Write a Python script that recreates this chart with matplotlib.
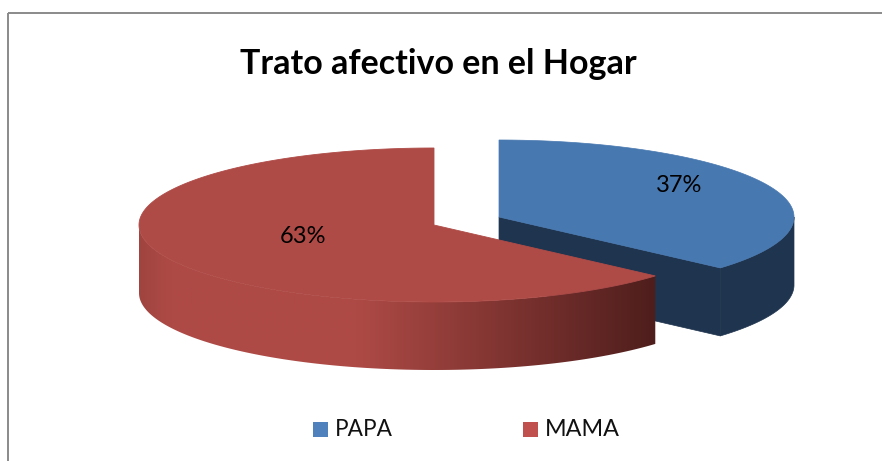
import numpy as np
import matplotlib
matplotlib.use("Agg")
import matplotlib.pyplot as plt
from matplotlib.patches import Polygon, Rectangle
from matplotlib.colors import LinearSegmentedColormap

plt.rcParams['font.family'] = ['Lato', 'DejaVu Sans']

categories = ["PAPA", "MAMA"]
values = [36.5, 63.5]   # labels are rounded
pct_labels = ["37%", "63%"]
title = "Trato afectivo en el Hogar"

W, H = 882, 461
rx, ry = 295, 77
depth = 68
c_papa = (499, 217)
c_mama = (434, 225)


def arc(center, a0, a1, dy=0):
    # angles in degrees, clockwise from 12 o'clock
    t = np.radians(np.linspace(a0, a1, 240))
    return np.column_stack([center[0] + rx*np.sin(t), center[1] - ry*np.cos(t) + dy])


fig = plt.figure(figsize=(W/100, H/100), dpi=100)
ax = fig.add_axes([0, 0, 1, 1])
ax.set_xlim(0, W)
ax.set_ylim(H, 0)
ax.axis("off")

# chart frame, runs off the right and bottom of the picture
ax.add_patch(Rectangle((8, 13), 900, 480, fill=False, ec="#8a8a8a", lw=1.4))

split = 360*values[0]/sum(values)

# PAPA slice
top = arc(c_papa, 0, split)
outer = np.vstack([arc(c_papa, 90, split), arc(c_papa, 90, split, depth)[::-1]])
tip = top[-1]
cut = [c_papa, tip, (tip[0], tip[1]+depth), (c_papa[0], c_papa[1]+depth)]
ax.add_patch(Polygon(outer, fc="#1f344e", ec="#1f344e", lw=0.5, zorder=2))
ax.add_patch(Polygon(cut, fc="#1f344e", ec="#1f344e", lw=0.5, zorder=2))
ax.add_patch(Polygon(np.vstack([[c_papa], top]), fc="#4878b0", ec="#4878b0", lw=0.5, zorder=3))

# MAMA slice
top = arc(c_mama, split, 360)
front = np.vstack([arc(c_mama, split, 270), arc(c_mama, split, 270, depth)[::-1]])
patch = Polygon(front, fc="none", ec="none", zorder=4)
ax.add_patch(patch)
cmap = LinearSegmentedColormap.from_list("side", [(0, "#a04440"), (0.06, "#ae4a46"), (0.42, "#ae4a46"),
                                                   (0.72, "#7d3330"), (1, "#4e1e1c")])
im = ax.imshow(np.linspace(0, 1, 256)[None, :], cmap=cmap, aspect="auto", zorder=4,
               extent=(c_mama[0]-rx, front[:, 0].max(), H, 0))
im.set_clip_path(patch)
ax.set_xlim(0, W)
ax.set_ylim(H, 0)
ax.add_patch(Polygon(np.vstack([[c_mama], top]), fc="#af4b47", ec="#af4b47", lw=0.6, zorder=5))

# labels
ax.text(679, 185, pct_labels[0], fontsize=17, ha="center", va="center", color="black", zorder=6)
ax.text(303, 236, pct_labels[1], fontsize=17, ha="center", va="center", color="black", zorder=6)
ax.text(438, 64, title, fontsize=24.5, fontweight="bold", ha="center", va="center", color="black", zorder=6)

# legend
ax.add_patch(Rectangle((313, 422), 15, 15, fc="#4f81bd", ec="none"))
ax.add_patch(Rectangle((523, 422), 15, 15, fc="#c0504d", ec="none"))
ax.text(335, 429.5, categories[0], fontsize=16.3, ha="left", va="center", color="#111111")
ax.text(545, 429.5, categories[1], fontsize=16.8, ha="left", va="center", color="#111111")

fig.savefig("out.png", dpi=100)
